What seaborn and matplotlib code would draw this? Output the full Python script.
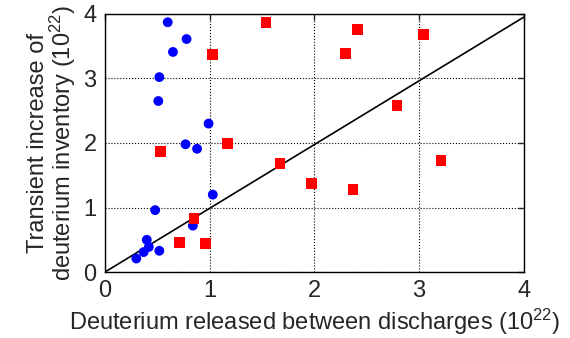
import matplotlib
matplotlib.use("Agg")
import matplotlib.pyplot as plt
import seaborn as sns
import pandas as pd

# data (units of 1e22)
blue_x = [0.60, 0.78, 0.65, 0.52, 0.51, 0.99, 0.77, 0.88, 1.03, 0.48, 0.84, 0.40, 0.42, 0.37, 0.52, 0.30]
blue_y = [3.87, 3.61, 3.41, 3.02, 2.65, 2.30, 1.98, 1.91, 1.20, 0.96, 0.72, 0.50, 0.39, 0.31, 0.33, 0.21]
red_x = [1.54, 2.41, 3.04, 1.03, 2.30, 2.79, 1.17, 0.53, 1.67, 3.21, 1.97, 2.37, 0.85, 0.71, 0.96]
red_y = [3.87, 3.76, 3.68, 3.37, 3.39, 2.58, 1.99, 1.87, 1.68, 1.73, 1.37, 1.28, 0.83, 0.46, 0.44]
line_x = [0, 4]
line_y = [0, 3.95]
ticks = [0, 1, 2, 3, 4]

blue = pd.DataFrame({"x": blue_x, "y": blue_y})
red = pd.DataFrame({"x": red_x, "y": red_y})
diag = pd.DataFrame({"x": line_x, "y": line_y})

sns.set_style("white")
plt.rcParams["font.family"] = ["Liberation Sans", "DejaVu Sans"]
plt.rcParams["mathtext.fontset"] = "custom"
plt.rcParams["mathtext.rm"] = "Liberation Sans"
plt.rcParams["mathtext.it"] = "Liberation Sans"

fig = plt.figure(figsize=(5.7, 3.38), dpi=100)
ax = fig.add_axes([0.184, 0.195, 0.735, 0.764])

sns.lineplot(data=diag, x="x", y="y", color="black", linewidth=1.2, ax=ax, zorder=2)
sns.scatterplot(data=blue, x="x", y="y", color="#0000ff", marker="o", s=50,
                edgecolor="none", ax=ax, zorder=3)
sns.scatterplot(data=red, x="x", y="y", color="#ff0000", marker="s", s=58,
                edgecolor="none", ax=ax, zorder=3)

ax.set_xlim(0, 4)
ax.set_ylim(0, 4)
ax.set_xticks(ticks)
ax.set_yticks(ticks)
ax.grid(True, color="black", linestyle=":", linewidth=0.8)
ax.tick_params(direction="in", top=True, right=True, length=4, width=1,
               labelsize=17, pad=6)
for sp in ax.spines.values():
    sp.set_color("black")
    sp.set_linewidth(1)

ax.set_xlabel("Deuterium released between discharges (10$^{22}$)", fontsize=17, labelpad=3)
ax.set_ylabel("Transient increase of\ndeuterium inventory (10$^{22}$)", fontsize=17,
              labelpad=4, linespacing=0.95)

fig.savefig("out.png", dpi=100)
